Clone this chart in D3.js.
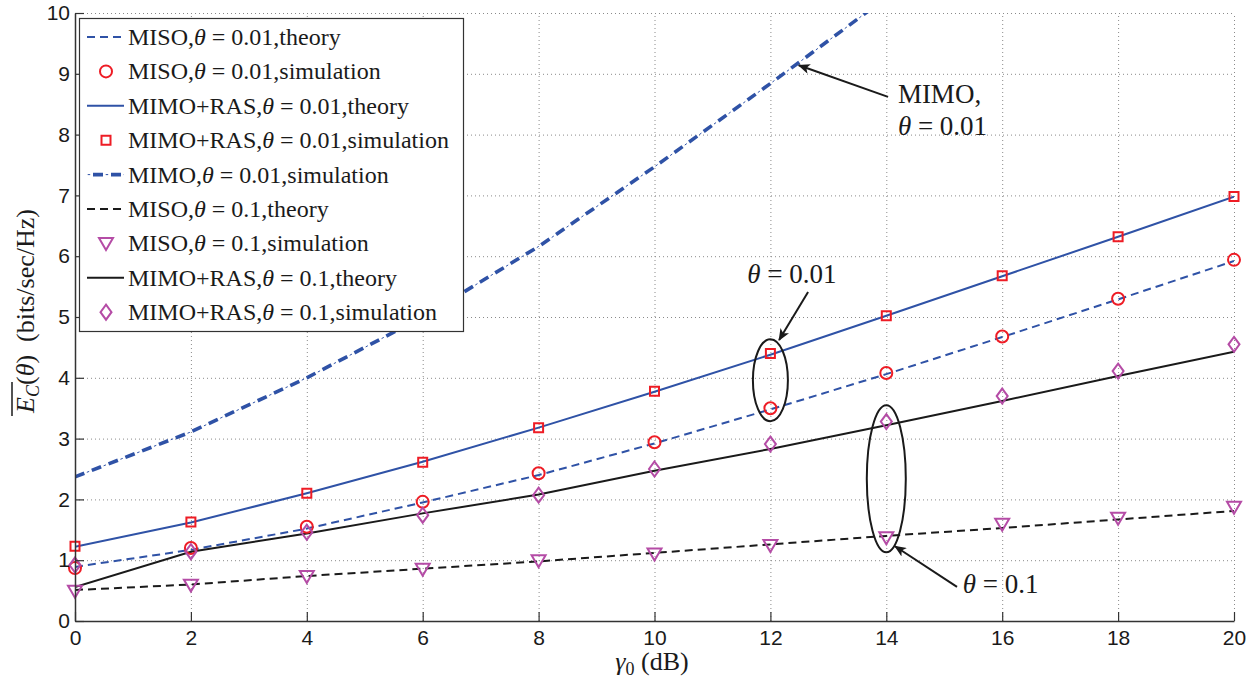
<!DOCTYPE html>
<html><head><meta charset="utf-8">
<script src="https://cdn.jsdelivr.net/npm/d3@7"></script>
<style>
html,body{margin:0;padding:0;background:#fff;}
svg{display:block;}
</style></head>
<body>
<svg id="chart" width="1253" height="678"></svg>
<script>
// ---------- data ----------
const gamma = [0,2,4,6,8,10,12,14,16,18,20];
const misoTheory001 = [0.89,1.17,1.52,1.95,2.40,2.92,3.48,4.06,4.67,5.29,5.92];
const misoSim001    = [0.87,1.20,1.55,1.96,2.43,2.94,3.50,4.08,4.68,5.30,5.94];
const rasTheory001  = [1.22,1.62,2.10,2.62,3.18,3.77,4.38,5.02,5.67,6.32,6.98];
const rasSim001     = [1.23,1.63,2.10,2.61,3.18,3.78,4.40,5.02,5.68,6.32,6.98];
const mimoGamma     = [0,2,4,6,8,10,12,14];
const mimoSim001    = [2.37,3.11,4.00,5.00,6.16,7.47,8.84,10.25];
const misoTheory01  = [0.51,0.60,0.74,0.86,0.98,1.12,1.26,1.40,1.53,1.67,1.81];
const misoSim01     = [0.49,0.59,0.73,0.85,0.99,1.10,1.24,1.37,1.59,1.69,1.87];
const rasTheory01   = [0.56,1.14,1.44,1.77,2.08,2.47,2.83,3.22,3.62,4.03,4.43];
const rasSim01      = [0.92,1.14,1.46,1.74,2.07,2.50,2.91,3.28,3.70,4.11,4.55];
const xTicks = [0,2,4,6,8,10,12,14,16,18,20];
const yTicks = [0,1,2,3,4,5,6,7,8,9,10];
const legendPre = ["MISO,","MISO,","MIMO+RAS,","MIMO+RAS,","MIMO,","MISO,","MISO,","MIMO+RAS,","MIMO+RAS,"];
const legendPost = [" = 0.01,theory"," = 0.01,simulation"," = 0.01,theory"," = 0.01,simulation"," = 0.01,simulation"," = 0.1,theory"," = 0.1,simulation"," = 0.1,theory"," = 0.1,simulation"];

// ---------- styles ----------
const BLUE = "#2f52a6", RED = "#ee1c25", PURPLE = "#b54ca6", BLACK = "#1a1a1a";
const SERIF = "'Liberation Serif','Times New Roman',serif";
const SANS = "'Liberation Sans',Arial,sans-serif";

const svg = d3.select("#chart");
const x = d3.scaleLinear().domain([0,20]).range([75,1234]);
const y = d3.scaleLinear().domain([0,10]).range([621,13]);

// grid
svg.append("g").attr("transform",`translate(0,${y(0)})`)
  .call(d3.axisBottom(x).tickValues(xTicks).tickSize(-(y(0)-y(10))).tickFormat(""))
  .call(g=>{g.select(".domain").remove();g.selectAll("line").attr("stroke","#8a8a8a").attr("stroke-dasharray","1,3");});
svg.append("g").attr("transform",`translate(${x(0)},0)`)
  .call(d3.axisLeft(y).tickValues(yTicks).tickSize(-(x(20)-x(0))).tickFormat(""))
  .call(g=>{g.select(".domain").remove();g.selectAll("line").attr("stroke","#8a8a8a").attr("stroke-dasharray","1,3");});

// clip
svg.append("clipPath").attr("id","plotclip").append("rect")
  .attr("x",x(0)).attr("y",y(10)).attr("width",x(20)-x(0)).attr("height",y(0)-y(10));
const plot = svg.append("g").attr("clip-path","url(#plotclip)");

const line = d3.line().x(d=>x(d[0])).y(d=>y(d[1]));
const zipS = (xs,ys)=>xs.map((v,i)=>[v,ys[i]]);

function drawLine(data,color,dash,width){
  plot.append("path").attr("d",line(data)).attr("fill","none").attr("stroke",color)
    .attr("stroke-width",width).attr("stroke-dasharray",dash||null);
}
drawLine(zipS(gamma,misoTheory001),BLUE,"8,5",2);
drawLine(zipS(gamma,rasTheory001),BLUE,null,2);
drawLine(zipS(gamma,misoTheory01),BLACK,"8,5",2);
drawLine(zipS(gamma,rasTheory01),BLACK,null,2);
// MIMO dash-dot: thick dashes + thin dots
plot.append("path").attr("d",line(zipS(mimoGamma,mimoSim001))).attr("fill","none")
  .attr("stroke",BLUE).attr("stroke-width",3.6).attr("stroke-dasharray","10,8");
plot.append("path").attr("d",line(zipS(mimoGamma,mimoSim001))).attr("fill","none")
  .attr("stroke",BLUE).attr("stroke-width",1).attr("stroke-dasharray","2.5,15.5").attr("stroke-dashoffset",-12.7);

// markers
const markerPath = {
  circle: d3.symbol().type(d3.symbolCircle).size(Math.PI*36)(),
  square: "M-4.5,-4.5H4.5V4.5H-4.5Z",
  tri: "M-7,-5.5L7,-5.5L0,6.5Z",
  diamond: "M0,-7.5L5.5,0L0,7.5L-5.5,0Z"
};
function drawMarkers(xs,ys,type,color){
  svg.append("g").selectAll("path").data(zipS(xs,ys)).join("path")
    .attr("d",markerPath[type]).attr("transform",d=>`translate(${x(d[0])},${y(d[1])})`)
    .attr("fill","none").attr("stroke",color).attr("stroke-width",2);
}
drawMarkers(gamma,misoSim001,"circle",RED);
drawMarkers(gamma,rasSim001,"square",RED);
drawMarkers(gamma,misoSim01,"tri",PURPLE);
drawMarkers(gamma,rasSim01,"diamond",PURPLE);

// axes
const xAxis = svg.append("g").attr("transform",`translate(0,${y(0)})`)
  .call(d3.axisBottom(x).tickValues(xTicks).tickSize(-9).tickSizeOuter(0).tickPadding(9));
const yAxis = svg.append("g").attr("transform",`translate(${x(0)},0)`)
  .call(d3.axisLeft(y).tickValues(yTicks).tickSize(-9).tickSizeOuter(0).tickPadding(5));
[xAxis,yAxis].forEach(g=>{
  g.select(".domain").attr("stroke","#333").attr("stroke-width",1.5);
  g.selectAll(".tick line").attr("stroke","#333").attr("stroke-width",1.2);
  g.selectAll(".tick text").attr("font-family",SANS).attr("font-size",21).attr("fill","#1a1a1a");
});

// legend
const lg = svg.append("g");
lg.append("rect").attr("x",79.5).attr("y",18.5).attr("width",384).attr("height",313)
  .attr("fill","#fff").attr("stroke","#333").attr("stroke-width",1.2);
const legendStyle = [
  {l:BLUE,dash:"8,5",w:2},{m:"circle",c:RED},{l:BLUE,w:2},{m:"square",c:RED},
  {l:BLUE,mimo:true},{l:BLACK,dash:"8,5",w:2},{m:"tri",c:PURPLE},{l:BLACK,w:2},{m:"diamond",c:PURPLE}
];
legendPre.forEach((pre,i)=>{
  const cy = 37 + i*34.4;
  const s = legendStyle[i];
  if(s.mimo){
    lg.append("line").attr("x1",87).attr("x2",124).attr("y1",cy).attr("y2",cy)
      .attr("stroke",BLUE).attr("stroke-width",3.6).attr("stroke-dasharray","10,8").attr("stroke-dashoffset",-6);
    lg.append("line").attr("x1",87).attr("x2",124).attr("y1",cy).attr("y2",cy)
      .attr("stroke",BLUE).attr("stroke-width",1).attr("stroke-dasharray","2.5,15.5").attr("stroke-dashoffset",-0.7);
  } else if(s.l){
    lg.append("line").attr("x1",87).attr("x2",124).attr("y1",cy).attr("y2",cy)
      .attr("stroke",s.l).attr("stroke-width",s.w).attr("stroke-dasharray",s.dash||null);
  } else {
    lg.append("path").attr("d",markerPath[s.m]).attr("transform",`translate(106,${cy})`)
      .attr("fill","none").attr("stroke",s.c).attr("stroke-width",2);
  }
  const t = lg.append("text").attr("x",128).attr("y",cy+8).attr("font-family",SERIF)
    .attr("font-size",24).attr("fill","#1a1a1a");
  t.append("tspan").text(pre);
  t.append("tspan").attr("font-style","italic").text("θ");
  t.append("tspan").text(legendPost[i]);
});

// axis labels
const xl = svg.append("text").attr("x",652).attr("y",670).attr("text-anchor","middle")
  .attr("font-family",SERIF).attr("font-size",26).attr("fill","#1a1a1a");
xl.append("tspan").attr("font-style","italic").text("γ");
xl.append("tspan").attr("font-size",18).attr("dy",5).text("0");
xl.append("tspan").attr("dy",-5).text(" (dB)");

const yg = svg.append("g").attr("transform","translate(34,311) rotate(-90)");
const yl = yg.append("text").attr("x",0).attr("y",0).attr("text-anchor","middle")
  .attr("font-family",SERIF).attr("font-size",26).attr("fill","#1a1a1a")
  .attr("xml:space","preserve").style("white-space","pre");
yl.append("tspan").attr("font-style","italic").text("E");
yl.append("tspan").attr("font-style","italic").attr("font-size",18).attr("dy",5).text("C");
yl.append("tspan").attr("dy",-5).text("(");
yl.append("tspan").attr("font-style","italic").text("θ");
yl.append("tspan").text(")  (bits/sec/Hz)");
{
  const node = yl.node();
  const x0 = node.getStartPositionOfChar(0).x;
  const x1 = node.getEndPositionOfChar(1).x;
  yg.append("line").attr("x1",x0-3).attr("x2",x1+3).attr("y1",-22).attr("y2",-22)
    .attr("stroke","#1a1a1a").attr("stroke-width",1.5);
}

// annotations
const ann = svg.append("g");
const defs = svg.append("defs");
defs.append("marker").attr("id","arrow").attr("viewBox","0 0 12 10").attr("refX",11).attr("refY",5)
  .attr("markerWidth",12).attr("markerHeight",10).attr("markerUnits","userSpaceOnUse").attr("orient","auto")
  .append("path").attr("d","M0,0L12,5L0,10L3,5Z").attr("fill","#1a1a1a");
function arrow(xa,ya,xb,yb){
  ann.append("line").attr("x1",x(xa)).attr("y1",y(ya)).attr("x2",x(xb)).attr("y2",y(yb))
    .attr("stroke","#1a1a1a").attr("stroke-width",2).attr("marker-end","url(#arrow)");
}
function annText(xv,yv,pre,italic,post){
  const t = ann.append("text").attr("x",x(xv)).attr("y",y(yv)).attr("font-family",SERIF)
    .attr("font-size",27).attr("fill","#1a1a1a");
  if(pre) t.append("tspan").text(pre);
  if(italic) t.append("tspan").attr("font-style","italic").text(italic);
  if(post) t.append("tspan").text(post);
}
arrow(14.03,8.62,12.49,9.14);
annText(14.2,8.52,"MIMO,",null,null);
annText(14.2,7.99,null,"θ"," = 0.01");
arrow(12.65,5.41,12.15,4.62);
annText(11.6,5.56,null,"θ"," = 0.01");
arrow(15.22,0.56,14.15,1.23);
annText(15.32,0.46,null,"θ"," = 0.1");
ann.append("ellipse").attr("cx",x(12)).attr("cy",y(3.96)).attr("rx",17.5).attr("ry",41)
  .attr("fill","none").attr("stroke","#1a1a1a").attr("stroke-width",2);
ann.append("ellipse").attr("cx",x(14)).attr("cy",y(2.34)).attr("rx",19.5).attr("ry",73.5)
  .attr("fill","none").attr("stroke","#1a1a1a").attr("stroke-width",2);
</script>
</body></html>
